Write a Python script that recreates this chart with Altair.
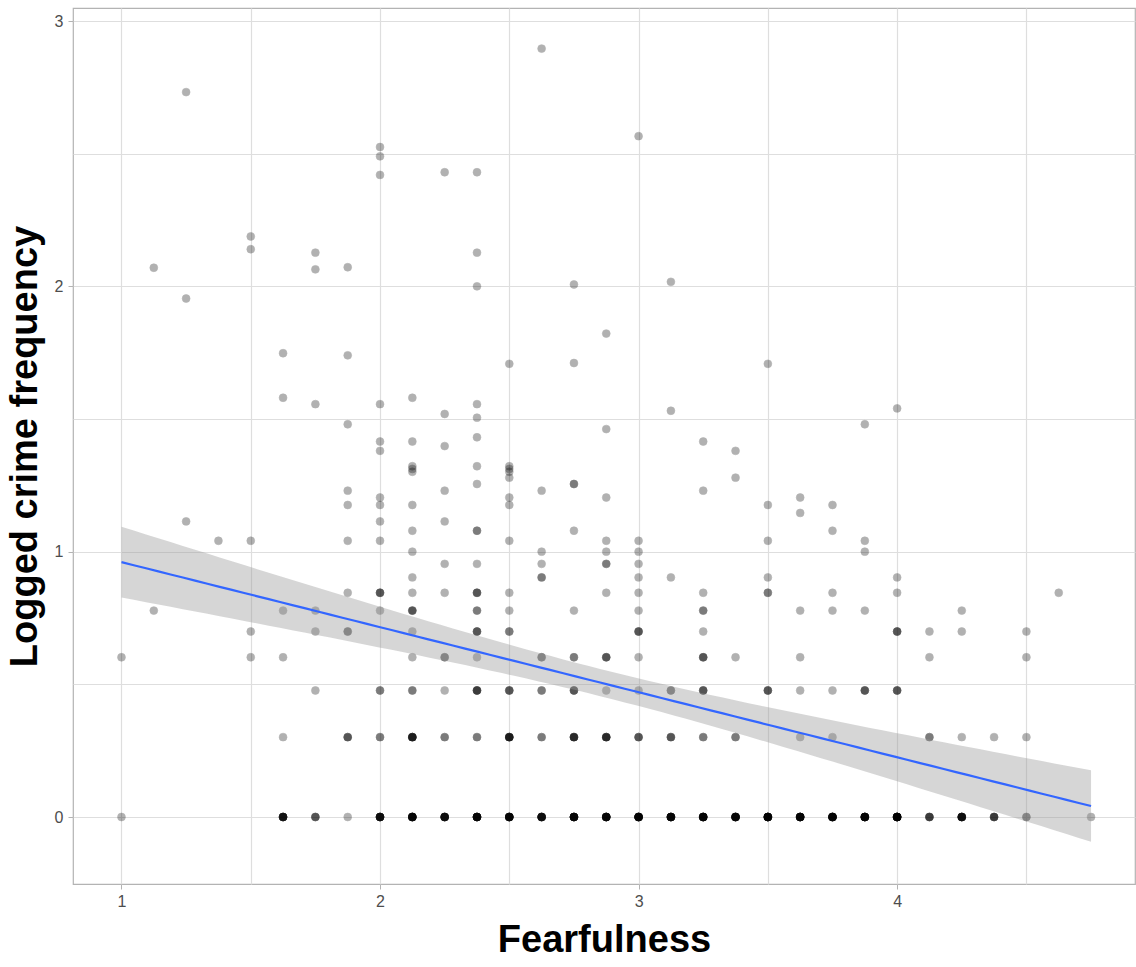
import altair as alt
import numpy as np
import pandas as pd

# Fearfulness score, logged crime frequency, and how many respondents share that pair
fearfulness = [
    1.0, 1.0,
    1.125, 1.125,
    1.25, 1.25, 1.25,
    1.375,
    1.5, 1.5, 1.5, 1.5, 1.5,
    1.625, 1.625, 1.625, 1.625, 1.625, 1.625,
    1.75, 1.75, 1.75, 1.75, 1.75, 1.75, 1.75,
    1.875, 1.875, 1.875, 1.875, 1.875, 1.875, 1.875, 1.875, 1.875, 1.875,
    2.0, 2.0, 2.0, 2.0, 2.0, 2.0, 2.0, 2.0, 2.0, 2.0, 2.0, 2.0, 2.0, 2.0, 2.0,
    2.125, 2.125, 2.125, 2.125, 2.125, 2.125, 2.125, 2.125, 2.125, 2.125, 2.125, 2.125, 2.125, 2.125, 2.125, 2.125,
    2.25, 2.25, 2.25, 2.25, 2.25, 2.25, 2.25, 2.25, 2.25, 2.25, 2.25,
    2.375, 2.375, 2.375, 2.375, 2.375, 2.375, 2.375, 2.375, 2.375, 2.375, 2.375, 2.375, 2.375, 2.375, 2.375, 2.375, 2.375,
    2.5, 2.5, 2.5, 2.5, 2.5, 2.5, 2.5, 2.5, 2.5, 2.5, 2.5, 2.5, 2.5, 2.5,
    2.625, 2.625, 2.625, 2.625, 2.625, 2.625, 2.625, 2.625, 2.625,
    2.75, 2.75, 2.75, 2.75, 2.75, 2.75, 2.75, 2.75, 2.75,
    2.875, 2.875, 2.875, 2.875, 2.875, 2.875, 2.875, 2.875, 2.875, 2.875, 2.875,
    3.0, 3.0, 3.0, 3.0, 3.0, 3.0, 3.0, 3.0, 3.0, 3.0, 3.0, 3.0,
    3.125, 3.125, 3.125, 3.125, 3.125, 3.125,
    3.25, 3.25, 3.25, 3.25, 3.25, 3.25, 3.25, 3.25, 3.25,
    3.375, 3.375, 3.375, 3.375, 3.375,
    3.5, 3.5, 3.5, 3.5, 3.5, 3.5, 3.5,
    3.625, 3.625, 3.625, 3.625, 3.625, 3.625, 3.625,
    3.75, 3.75, 3.75, 3.75, 3.75, 3.75, 3.75,
    3.875, 3.875, 3.875, 3.875, 3.875, 3.875,
    4.0, 4.0, 4.0, 4.0, 4.0, 4.0,
    4.125, 4.125, 4.125, 4.125,
    4.25, 4.25, 4.25, 4.25,
    4.375, 4.375,
    4.5, 4.5, 4.5, 4.5,
    4.625,
    4.75,
]

logged_crime = [
    0.602, 0.0,
    2.07, 0.778,
    2.732, 1.954, 1.114,
    1.041,
    2.188, 2.14, 1.041, 0.699, 0.602,
    1.748, 1.58, 0.778, 0.602, 0.301, 0.0,
    2.127, 2.064, 1.556, 0.778, 0.699, 0.477, 0.0,
    2.072, 1.74, 1.48, 1.23, 1.176, 1.041, 0.845, 0.699, 0.301, 0.0,
    2.525, 2.49, 2.42, 1.556, 1.415, 1.38, 1.204, 1.176, 1.114, 1.041, 0.845, 0.778, 0.477, 0.301, 0.0,
    1.58, 1.415, 1.322, 1.312, 1.301, 1.176, 1.079, 1.0, 0.903, 0.845, 0.778, 0.699, 0.602, 0.477, 0.301, 0.0,
    2.43, 1.519, 1.398, 1.23, 1.114, 0.954, 0.845, 0.602, 0.477, 0.301, 0.0,
    2.43, 2.127, 2.0, 1.556, 1.505, 1.431, 1.322, 1.255, 1.079, 0.954, 0.845, 0.778, 0.699, 0.602, 0.477, 0.301, 0.0,
    1.708, 1.322, 1.312, 1.301, 1.279, 1.204, 1.176, 1.041, 0.845, 0.778, 0.699, 0.477, 0.301, 0.0,
    2.896, 1.23, 1.0, 0.954, 0.903, 0.602, 0.477, 0.301, 0.0,
    2.007, 1.711, 1.255, 1.079, 0.778, 0.602, 0.477, 0.301, 0.0,
    1.822, 1.462, 1.204, 1.041, 1.0, 0.954, 0.845, 0.602, 0.477, 0.301, 0.0,
    2.566, 1.041, 1.0, 0.954, 0.903, 0.845, 0.778, 0.699, 0.602, 0.477, 0.301, 0.0,
    2.017, 1.531, 0.903, 0.477, 0.301, 0.0,
    1.415, 1.23, 0.845, 0.778, 0.699, 0.602, 0.477, 0.301, 0.0,
    1.38, 1.279, 0.602, 0.301, 0.0,
    1.708, 1.176, 1.041, 0.903, 0.845, 0.477, 0.0,
    1.204, 1.146, 0.778, 0.602, 0.477, 0.301, 0.0,
    1.176, 1.079, 0.845, 0.778, 0.477, 0.301, 0.0,
    1.48, 1.041, 1.0, 0.778, 0.477, 0.0,
    1.54, 0.903, 0.845, 0.699, 0.477, 0.0,
    0.699, 0.602, 0.301, 0.0,
    0.778, 0.699, 0.301, 0.0,
    0.301, 0.0,
    0.699, 0.602, 0.301, 0.0,
    0.845,
    0.0,
]

respondents = [
    1, 1,
    1, 1,
    1, 1, 1,
    1,
    1, 1, 1, 1, 1,
    1, 1, 1, 1, 1, 7,
    1, 1, 1, 1, 1, 1, 3,
    1, 1, 1, 1, 1, 1, 1, 2, 3, 1,
    1, 1, 1, 1, 1, 1, 1, 1, 1, 1, 3, 1, 2, 2, 8,
    1, 1, 1, 1, 1, 1, 1, 1, 1, 1, 3, 1, 1, 2, 6, 10,
    1, 1, 1, 1, 1, 1, 1, 2, 1, 2, 8,
    1, 1, 1, 1, 1, 1, 1, 1, 2, 1, 3, 2, 3, 1, 4, 2, 10,
    1, 1, 1, 1, 1, 1, 1, 1, 1, 1, 2, 3, 6, 10,
    1, 1, 1, 1, 2, 2, 2, 2, 8,
    1, 1, 2, 1, 1, 2, 3, 5, 10,
    1, 1, 1, 1, 1, 2, 1, 3, 1, 5, 10,
    1, 1, 1, 1, 1, 1, 1, 3, 1, 1, 3, 11,
    1, 1, 1, 2, 3, 10,
    1, 1, 1, 2, 1, 3, 3, 2, 11,
    1, 1, 1, 2, 10,
    1, 1, 1, 1, 2, 3, 12,
    1, 1, 1, 1, 1, 1, 11,
    1, 1, 1, 1, 1, 1, 11,
    1, 1, 1, 1, 3, 11,
    1, 1, 1, 3, 3, 13,
    1, 1, 2, 4,
    1, 1, 1, 8,
    1, 4,
    1, 1, 1, 2,
    1,
    1,
]

x = np.repeat(np.array(fearfulness, dtype=float), respondents)
y = np.repeat(np.array(logged_crime, dtype=float), respondents)
points = pd.DataFrame({"Fearfulness": x, "Logged crime frequency": y})

# Ordinary least squares fit with a 95% confidence band, evaluated on 80 points
n = len(x)
xbar = x.mean()
sxx = ((x - xbar) ** 2).sum()
slope = ((x - xbar) * (y - y.mean())).sum() / sxx
intercept = y.mean() - slope * xbar
resid = y - (intercept + slope * x)
sigma2 = (resid ** 2).sum() / (n - 2)
t_crit = 1.965
grid = np.linspace(x.min(), x.max(), 80)
fitted = intercept + slope * grid
se = np.sqrt(sigma2 * (1.0 / n + (grid - xbar) ** 2 / sxx))
fit = pd.DataFrame({
    "Fearfulness": grid,
    "fit": fitted,
    "lower": fitted - t_crit * se,
    "upper": fitted + t_crit * se,
})

FONT = "Liberation Sans"
x_scale = alt.Scale(domain=[0.8125, 4.92], nice=False, zero=False)
y_scale = alt.Scale(domain=[-0.2525, 3.049], nice=False, zero=False)

major_only = "datum.value % 1 === 0"


def axis(values, title_padding, label_padding):
    return alt.Axis(
        values=values,
        labelExpr=f"{major_only} ? format(datum.value, 'd') : ''",
        tickColor={"condition": {"test": major_only, "value": "#b3b3b3"}, "value": "rgba(0,0,0,0)"},
        tickSize=5,
        tickWidth=1,
        domain=False,
        grid=True,
        gridColor="#dedede",
        gridWidth=1.2,
        labelFont=FONT,
        labelFontSize=16,
        labelColor="#4d4d4d",
        labelPadding=label_padding,
        labelOverlap=False,
        titleFont=FONT,
        titleFontSize=38,
        titleFontWeight="bold",
        titleColor="#000000",
        titlePadding=title_padding,
    )


x_axis = axis([1, 1.5, 2, 2.5, 3, 3.5, 4, 4.5], 12, 4)
y_axis = axis([0, 0.5, 1, 1.5, 2, 2.5, 3], 10, 5)

scatter = alt.Chart(points).mark_circle(
    size=62, color="#000000", opacity=0.3, stroke="#000000", strokeWidth=0.6
).encode(
    x=alt.X("Fearfulness:Q", scale=x_scale, axis=x_axis, title="Fearfulness"),
    y=alt.Y("Logged crime frequency:Q", scale=y_scale, axis=y_axis, title="Logged crime frequency"),
)

band = alt.Chart(fit).mark_area(color="#999999", opacity=0.4).encode(
    x=alt.X("Fearfulness:Q", scale=x_scale),
    y=alt.Y("lower:Q", scale=y_scale),
    y2="upper:Q",
)

line = alt.Chart(fit).mark_line(color="#3366FF", strokeWidth=2.2).encode(
    x=alt.X("Fearfulness:Q", scale=x_scale),
    y=alt.Y("fit:Q", scale=y_scale),
)

chart = (
    alt.layer(scatter, band, line)
    .properties(
        width=1062,
        height=876,
        autosize=alt.AutoSizeParams(type="none"),
        padding={"left": 73, "top": 8, "right": 1, "bottom": 83},
        background="#ffffff",
    )
    .configure_view(stroke="#b3b3b3", strokeWidth=1.2)
)

chart.save("out.html", embed_options={"renderer": "svg", "actions": False})
